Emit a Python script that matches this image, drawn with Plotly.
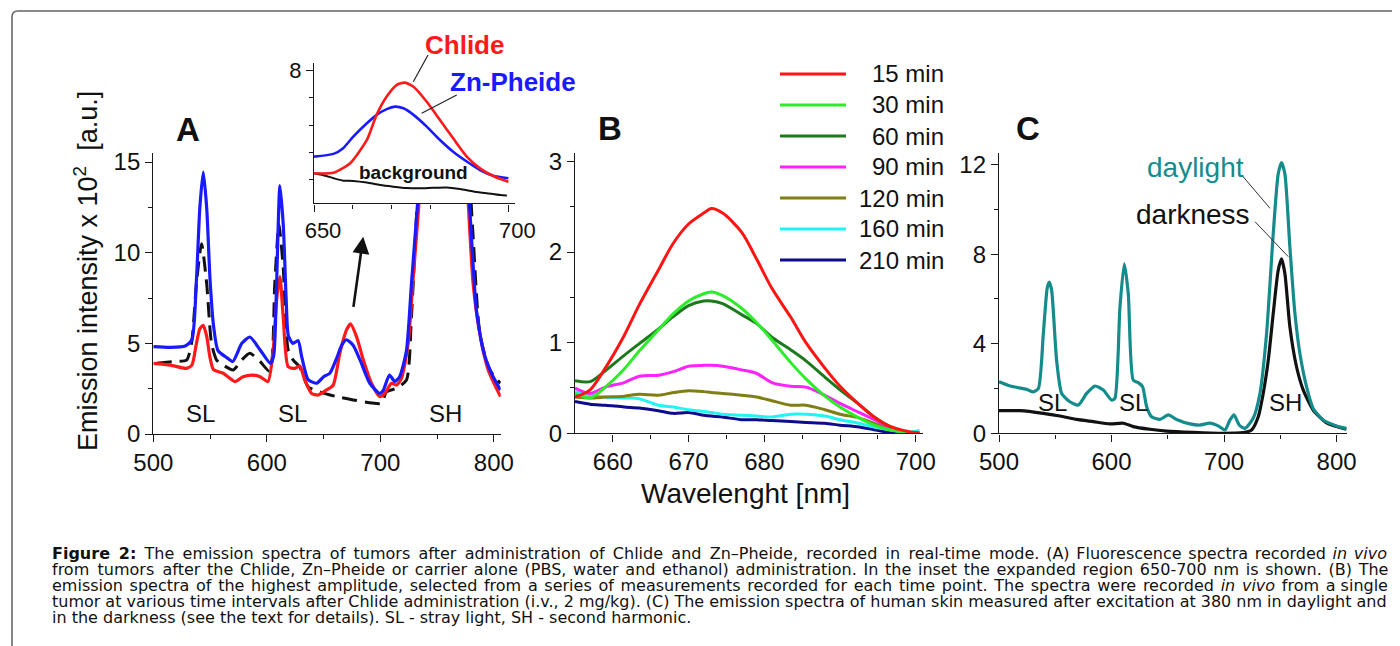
import os
import re
import struct
import plotly.graph_objects as go

W, H = 1400, 646
OFF = 8  # page body margin of the saved html


def px(x):
    return (x - OFF) / W


def py(y):
    return 1 - (y - OFF) / H


FONT = "Liberation Sans, Arial, sans-serif"
CAPFONT = "DejaVu Sans, sans-serif"
AXC = "#1a1a1a"

# ---------------- Panel A (main) ----------------
A_CHLIDE_WL = [500, 515, 529, 534, 538, 541, 544, 547, 550, 553, 561.6, 572, 579, 587, 594, 601,
               605.6, 608.6, 611.5, 614.4, 618.8, 624.7, 629, 633.5, 639.4, 645.2, 652.6, 658.5,
               664.3, 670.2, 673.7, 679, 685, 692.2, 699.5, 704, 709.8, 714.2, 718.6, 724.5, 729,
               734.2, 737.7, 745, 755, 765, 774.4, 777.3, 781.7, 787.6, 795, 805.8]
A_CHLIDE = [3.9, 3.8, 3.62, 3.8, 5.0, 5.8, 6.0, 5.4, 4.2, 3.55, 3.35, 2.89, 3.16, 3.25, 3.16, 2.89,
            4.63, 7.4, 8.68, 6.47, 3.71, 3.62, 3.75, 2.98, 2.24, 2.15, 2.43, 2.7,
            4.45, 5.74, 6.07, 5.37, 4.08, 2.8, 2.06, 2.24, 2.8, 2.7, 3.07, 5.0, 8.68,
            12.9, 16.6, 30, 40, 30, 16.6, 12.9, 8.3, 5.55, 3.53, 2.06]

A_ZNPH_WL = [500, 515, 528, 534, 538, 541, 544, 547, 550, 553, 557, 565, 570, 578, 585, 594, 603,
             606, 608.6, 611.5, 614.5, 617, 619, 623, 627.6, 630.6, 636.4, 644, 650, 655.5, 661,
             666, 670, 676, 682, 690.7, 699.5, 702.5, 708, 712.7, 717, 723, 727.4, 733, 736,
             745, 755, 765, 775.8, 780.2, 784.6, 790.5, 797.8, 805.8]
A_ZNPH = [4.82, 4.78, 4.85, 5.2, 8.5, 12.5, 14.45, 12.5, 8.5, 6.0, 4.6, 4.2, 4.0, 5.0, 5.35, 4.65, 3.9,
          4.3, 8.3, 13.7, 11.5, 7.5, 5.4, 5.0, 5.15, 4.3, 3.0, 2.8, 3.16, 3.35, 4.1,
          4.9, 5.2, 4.9, 4.1, 2.8, 2.24, 2.4, 3.25, 2.9, 3.16, 4.6, 8.3, 12.9, 15.7,
          30, 40, 30, 15.7, 10.9, 6.84, 4.63, 3.35, 2.43]

A_CARRIER_WL = [503, 517.6, 529.3, 533.7, 538, 542.5, 547, 551.3, 555.8, 561.6, 570.4, 577.8, 585,
                594, 602.7, 607, 610.6, 614.4, 618.8, 623.2, 629, 636.4, 646.7, 661.4, 676, 690.7,
                701, 705.4, 714.2, 723, 727.4, 731.8, 734.7, 745, 755, 765, 777.3, 781.7, 787.6,
                796.4, 805.8]
A_CARRIER = [3.9, 4.0, 4.08, 5.0, 8.3, 10.5, 8.3, 5.0, 4.08, 3.8, 3.53, 4.08, 4.45,
             4.0, 3.44, 8.3, 11.6, 9.2, 4.63, 4.08, 3.7, 2.6, 2.33, 2.06, 1.88, 1.73,
             1.69, 2.33, 2.52, 2.98, 6.5, 12.0, 15.7, 30, 40, 30, 15.7, 10.9, 5.55,
             3.53, 2.8]

A_XTICKS = [500, 600, 700, 800]
A_YTICKS = [0, 5, 10, 15]

# ---------------- Panel A inset ----------------
IN_CHLIDE_WL = [650, 655, 659.3, 663.6, 666.1, 668.7, 671.3, 673.4, 675.6, 679, 682.4, 685.8, 689.3,
                692.7, 696.1, 700]
IN_CHLIDE = [4.24, 4.26, 4.61, 5.46, 6.38, 7.05, 7.48, 7.56, 7.41, 6.86, 6.19, 5.52, 4.85,
             4.42, 4.14, 3.93]
IN_ZNPH_WL = [650, 655, 657.5, 660.1, 663.6, 666.1, 668.7, 670.8, 673, 675.6, 679, 682.4, 685.8,
              689.3, 692.7, 696.1, 700]
IN_ZNPH = [4.85, 4.95, 5.16, 5.58, 6.07, 6.38, 6.59, 6.68, 6.62, 6.38, 5.95, 5.46, 5.03,
           4.67, 4.36, 4.15, 4.06]
IN_BG_WL = [650, 652.4, 655, 657.5, 660.1, 663.6, 667, 670.4, 673.8, 677.3, 680.7, 684.1, 687.6,
            691, 694.4, 697.9, 699.6]
IN_BG = [4.24, 4.17, 4.06, 3.97, 3.96, 3.9, 3.81, 3.75, 3.70, 3.69, 3.71, 3.72, 3.66,
         3.57, 3.51, 3.44, 3.43]
IN_XTICKS = [650, 700]
IN_YTICKS = [8]

# ---------------- Panel B ----------------
B_WL = [655, 657, 659, 661.5, 663.5, 666, 668, 670, 672, 673, 674.5, 677, 679, 681, 683.5, 685.5,
        688, 690, 692.5, 694.5, 696.5, 699, 700.5]
B_15 = [0.40, 0.48, 0.72, 1.08, 1.42, 1.80, 2.10, 2.31, 2.43, 2.48, 2.43, 2.22, 1.92, 1.60, 1.28,
        1.00, 0.72, 0.52, 0.32, 0.18, 0.08, 0.02, 0.0]
B_30 = [0.44, 0.39, 0.51, 0.71, 0.91, 1.14, 1.32, 1.46, 1.54, 1.56, 1.52, 1.38, 1.22, 1.03, 0.78,
        0.60, 0.41, 0.29, 0.17, 0.09, 0.04, 0.01, 0.0]
B_60 = [0.58, 0.57, 0.69, 0.86, 0.99, 1.15, 1.29, 1.41, 1.46, 1.46, 1.43, 1.31, 1.21, 1.06, 0.92,
        0.80, 0.62, 0.48, 0.32, 0.18, 0.08, 0.01, 0.0]
B_90 = [0.50, 0.44, 0.51, 0.56, 0.63, 0.64, 0.68, 0.74, 0.75, 0.75, 0.74, 0.70, 0.66, 0.56, 0.52,
        0.51, 0.42, 0.33, 0.23, 0.15, 0.07, 0.01, 0.0]
B_120 = [0.40, 0.39, 0.40, 0.41, 0.43, 0.42, 0.45, 0.47, 0.46, 0.45, 0.44, 0.42, 0.40, 0.36, 0.31,
         0.31, 0.26, 0.21, 0.17, 0.11, 0.06, 0.01, 0.0]
B_160 = [0.46, 0.42, 0.40, 0.39, 0.38, 0.31, 0.29, 0.26, 0.24, 0.23, 0.21, 0.20, 0.19, 0.18, 0.21,
         0.21, 0.19, 0.15, 0.11, 0.07, 0.04, 0.01, 0.03]
B_210 = [0.35, 0.32, 0.31, 0.29, 0.28, 0.25, 0.22, 0.23, 0.20, 0.19, 0.18, 0.15, 0.15, 0.14, 0.13,
         0.12, 0.11, 0.09, 0.07, 0.04, 0.01, 0.0, 0.0]
B_SERIES = [B_15, B_30, B_60, B_90, B_120, B_160, B_210]
B_NAMES = ["15 min", "30 min", "60 min", "90 min", "120 min", "160 min", "210 min"]
B_COLORS = ["#ff1414", "#2cec2c", "#1c7a1c", "#ff22ff", "#7f7f14", "#22f4f4", "#0c0c8c"]
B_XTICKS = [660, 670, 680, 690, 700]
B_YTICKS = [0, 1, 2, 3]

# ---------------- Panel C ----------------
C_DAY_WL = [500, 510, 524.6, 530.5, 535, 539.4, 542.9, 544.7, 546.8, 551.2, 555.7, 563, 570.5, 577.9,
            585.3, 592.7, 600.1, 603, 607.5, 611.3, 614.9, 619.3, 623.8, 627.6, 631.2, 635.6, 643,
            650.4, 657.8, 669.7, 678.6, 687.4, 694.8, 700.8, 705.2, 708.8, 713.5, 718.5, 725.9,
            731.9, 737.8, 743.7, 748.1, 751.1, 754.1, 758.5, 763, 767.4, 773.3, 779.2, 788.1, 800,
            808.8]
C_DAY = [2.30, 2.11, 1.96, 1.85, 2.0, 4.45, 6.5, 6.75, 6.38, 3.26, 1.78, 1.41, 1.26, 1.78,
         2.11, 1.93, 1.48, 1.56, 5.64, 7.57, 6.23, 2.37, 2.26, 2.08, 1.19, 0.74, 0.62,
         0.82, 0.62, 0.42, 0.37, 0.45, 0.33, 0.15, 0.59, 0.82, 0.37, 0.22, 0.67,
         1.78, 4.45, 8.9, 11.57, 12.09, 11.57, 8.31, 5.34, 3.56, 2.08, 1.11, 0.59, 0.33, 0.22]
C_DARK_WL = [500, 518.7, 539.4, 554.2, 569, 583.8, 598.6, 610.5, 619.3, 634.1, 649, 672.6, 696.3,
             717, 724.5, 730.4, 734.8, 739.3, 743.7, 748.1, 751.1, 754.1, 758.5, 764.4, 770.4,
             779.2, 791.1, 808.8]
C_DARK = [1.01, 1.01, 0.89, 0.77, 0.62, 0.52, 0.42, 0.45, 0.30, 0.18, 0.10, 0.04, 0.0,
          0.03, 0.15, 0.74, 1.78, 3.26, 5.34, 7.27, 7.79, 7.12, 4.75, 2.97, 1.93,
          1.04, 0.47, 0.18]
C_XTICKS = [500, 600, 700, 800]
C_YTICKS = [0, 4, 8, 12]

# ---------------- Caption ----------------
CAPTION = [
    "<b>Figure 2:</b> The emission spectra of tumors after administration of Chlide and Zn\u2013Pheide, "
    "recorded in real-time mode. (A) Fluorescence spectra recorded <i>in vivo</i>",
    "from tumors after the Chlide, Zn\u2013Pheide or carrier alone (PBS, water and ethanol) "
    "administration. In the inset the expanded region 650-700 nm is shown. (B) The",
    "emission spectra of the highest amplitude, selected from a series of measurements recorded "
    "for each time point. The spectra were recorded <i>in vivo</i> from a single",
    "tumor at various time intervals after Chlide administration (i.v., 2 mg/kg). (C) The emission "
    "spectra of human skin measured after excitation at 380 nm in daylight and",
    "in the darkness (see the text for details). SL - stray light, SH - second harmonic.",
]
CAPTION_JUSTIFY = [True, True, True, True, False]


# ---------- font metrics (for justifying the caption lines) ----------
def find_font(name):
    for root in ["/usr/share/fonts", "/usr/local/share/fonts", os.path.expanduser("~/.fonts")]:
        for dp, dn, fn in os.walk(root):
            if name in fn:
                return os.path.join(dp, name)
    return None


def load_metrics(path):
    if not path:
        return None
    try:
        data = open(path, "rb").read()
        u16 = lambda o: struct.unpack(">H", data[o:o + 2])[0]
        n = u16(4)
        tabs = {}
        for i in range(n):
            tag, _, off, _ = struct.unpack(">4sIII", data[12 + 16 * i:28 + 16 * i])
            tabs[tag.decode("latin1")] = off
        upem = u16(tabs["head"] + 18)
        nhm = u16(tabs["hhea"] + 34)
        hm = tabs["hmtx"]
        adv = [u16(hm + 4 * i) for i in range(nhm)]
        cm = tabs["cmap"]
        sub = None
        for i in range(u16(cm + 2)):
            pid, eid, off = struct.unpack(">HHI", data[cm + 4 + 8 * i:cm + 12 + 8 * i])
            if u16(cm + off) == 4 and (sub is None or (pid == 3 and eid == 1)):
                sub = cm + off
        seg2 = u16(sub + 6)
        ends = sub + 14
        starts = ends + seg2 + 2
        deltas = starts + seg2
        ranges = deltas + seg2

        def gid(c):
            for i in range(seg2 // 2):
                if c <= u16(ends + 2 * i):
                    s = u16(starts + 2 * i)
                    if c < s:
                        return 0
                    d = u16(deltas + 2 * i)
                    ro = u16(ranges + 2 * i)
                    if ro == 0:
                        return (c + d) & 0xFFFF
                    g = u16(ranges + 2 * i + ro + 2 * (c - s))
                    return (g + d) & 0xFFFF if g else 0
            return 0

        def width(s):
            return sum(adv[min(gid(ord(ch)), nhm - 1)] for ch in s) / upem

        return gid, width
    except Exception:
        return None


REG = load_metrics(find_font("DejaVuSans.ttf"))
BOLD = load_metrics(find_font("DejaVuSans-Bold.ttf"))


def fit_line(line, size, target, justify):
    if REG is None:
        return line, size
    gid, wfun = REG
    plain = re.sub("<[^>]+>", "", line)
    w = wfun(plain)
    for b in re.findall("<b>(.*?)</b>", line):
        w += (BOLD[1](b) if BOLD else wfun(b) * 1.1) - wfun(b)
    w *= size
    if w > target:
        return line, size * target / w
    if not justify:
        return line, size
    pad = None
    for ch in ["\u200a", "\u2009", "\u2006", "\u00a0"]:
        if gid(ord(ch)):
            pad = ch
            break
    gaps = line.count(" ")
    if pad is None or gaps == 0:
        return line, size
    n = int(round((target - w) / (wfun(pad) * size)))
    parts = line.split(" ")
    out = parts[0]
    for i, p in enumerate(parts[1:]):
        k = n // gaps + (1 if i < n % gaps else 0)
        out += " " + pad * k + p
    return out, size


fig = go.Figure()


def line(x, y, color, width, xa, ya, dash=None, smooth=0.6):
    fig.add_trace(go.Scatter(
        x=x, y=y, mode="lines", xaxis=xa, yaxis=ya, showlegend=False, hoverinfo="skip",
        line=dict(color=color, width=width, dash=dash, shape="spline", smoothing=smooth)))


# Panel A
line(A_CARRIER_WL, A_CARRIER, "#111111", 3, "x", "y", dash="15px,8px")
line(A_CHLIDE_WL, A_CHLIDE, "#ff1a1a", 3.2, "x", "y")
line(A_ZNPH_WL, A_ZNPH, "#1a1aff", 3.2, "x", "y")
# Inset
line(IN_BG_WL, IN_BG, "#111111", 2, "x2", "y2")
line(IN_ZNPH_WL, IN_ZNPH, "#1a1aff", 2.6, "x2", "y2")
line(IN_CHLIDE_WL, IN_CHLIDE, "#ff1a1a", 2.6, "x2", "y2")
# Panel B (later series first so 15 min is on top)
for ys, col in reversed(list(zip(B_SERIES, B_COLORS))):
    line(B_WL, ys, col, 3, "x3", "y3", smooth=0.8)
# Panel C
line(C_DARK_WL, C_DARK, "#111111", 3.2, "x4", "y4")
line(C_DAY_WL, C_DAY, "#148c8c", 3.2, "x4", "y4")


def axis(dom, rng, tickvals, minor, tsize=24, shift=0):
    d = dict(domain=dom, range=rng, showline=True, linecolor=AXC, linewidth=1.4,
             ticks="outside", ticklen=7, tickwidth=1.4, tickcolor=AXC,
             tickmode="array", tickvals=tickvals,
             tickfont=dict(size=tsize, color="#111", family=FONT), automargin=False,
             showgrid=False, zeroline=False, mirror=False, fixedrange=True)
    if shift:
        d["ticklabelshift"] = shift
    if minor is not None:
        d["minor"] = dict(tickmode="array", tickvals=minor, ticks="outside", ticklen=4,
                          tickwidth=1.2, tickcolor=AXC, showgrid=False)
    return d


fig.update_layout(
    width=W, height=H, margin=dict(l=0, r=0, t=0, b=0, pad=0, autoexpand=False),
    paper_bgcolor="white", plot_bgcolor="white",
    font=dict(family=FONT, color="#111"),
    showlegend=False,
    xaxis=dict(axis([px(153.3), px(500.7)], [500, 806], A_XTICKS, [550, 650, 750]), anchor="y"),
    yaxis=dict(axis([py(434), py(153)], [0, 15.5], A_YTICKS, [2.5, 7.5, 12.5]), anchor="x"),
    xaxis2=dict(axis([px(314), px(515)], [650, 701.7], IN_XTICKS, [660, 670, 680, 690], tsize=22,
                     shift=9), anchor="y2"),
    yaxis2=dict(axis([py(203.3), py(63)], [3.14, 8.28], IN_YTICKS, [4, 5, 6, 7], tsize=22),
                anchor="x2"),
    xaxis3=dict(axis([px(575), px(923.3)], [655, 701], B_XTICKS, [665, 675, 685, 695]),
                anchor="y3"),
    yaxis3=dict(axis([py(433.3), py(153.3)], [0, 3.09], B_YTICKS, [0.5, 1.5, 2.5]), anchor="x3"),
    xaxis4=dict(axis([px(999), px(1346.7)], [500, 809], C_XTICKS, [550, 650, 750]), anchor="y4"),
    yaxis4=dict(axis([py(433.3), py(153.3)], [0, 12.5], C_YTICKS, [2, 6, 10]), anchor="x4"),
)

ann = []
shapes = []


def text(x, y, t, size, color="#111", bold=False, xanchor="center", angle=0, family=FONT):
    if bold:
        t = "<b>" + t + "</b>"
    ann.append(dict(x=px(x), y=py(y), xref="paper", yref="paper", text=t, showarrow=False,
                    xanchor=xanchor, yanchor="middle", textangle=angle,
                    font=dict(size=size, color=color, family=family)))


def seg(x0, y0, x1, y1, color="#222", width=1.2):
    shapes.append(dict(type="line", xref="paper", yref="paper", x0=px(x0), y0=py(y0),
                       x1=px(x1), y1=py(y1), line=dict(color=color, width=width)))


# Panel labels
text(188, 130, "A", 33, bold=True)
text(610, 128, "B", 33, bold=True)
text(1028, 128, "C", 33, bold=True)

# Axis titles
text(86, 271, "Emission intensity x 10<sup>2</sup>  [a.u.]", 27, angle=-90)
text(745, 493, "Wavelenght [nm]", 28)

# Panel A labels
text(200, 413, "SL", 24)
text(292, 413, "SL", 24)
text(445, 413, "SH", 24)
text(465, 45, "Chlide", 26, color="#ff1a1a", bold=True)
text(513, 82, "Zn-Pheide", 26, color="#1a1aff", bold=True)
text(413, 172, "background", 19, bold=True)
seg(428, 55, 413.3, 81.7)
seg(456.7, 95, 421.7, 113.3)
ann.append(dict(x=684.9, y=10.88, ax=676.1, ay=6.93, xref="x", yref="y", axref="x", ayref="y",
                text="", showarrow=True, arrowhead=2, arrowsize=1.3, arrowwidth=2.6,
                arrowcolor="#111"))

# Panel B legend
leg_y = [74, 105, 136, 167, 198, 229, 260]
for name, col, yy in zip(B_NAMES, B_COLORS, leg_y):
    seg(780, yy, 846, yy, color=col, width=3.2)
    text(946, yy, name, 24, xanchor="right")

# Panel C labels
text(1052, 403, "SL", 24)
text(1133, 403, "SL", 24)
text(1285, 403, "SH", 24)
text(1195, 168, "daylight", 28, color="#148c8c")
text(1193, 215, "darkness", 28)
seg(1241.7, 175, 1270, 208.3, color="#333", width=1)
seg(1255, 221.7, 1288.3, 256.7, color="#333", width=1)

# Caption
cap_y = [553, 569, 585, 601, 617]
for t, yy, js in zip(CAPTION, cap_y, CAPTION_JUSTIFY):
    tt, sz = fit_line(t, 16, 1338, js)
    text(50, yy, tt, sz, xanchor="left", family=CAPFONT)

# Frame
frame = "M {},{} L {},{} Q {},{} {},{} L {},{}".format(
    px(12), py(660), px(12), py(17), px(12), py(11), px(18), py(11), px(1410), py(11))
shapes.append(dict(type="path", xref="paper", yref="paper", path=frame,
                   line=dict(color="#666", width=1.6)))

fig.update_layout(annotations=ann, shapes=shapes)
fig.write_html("out.html")
